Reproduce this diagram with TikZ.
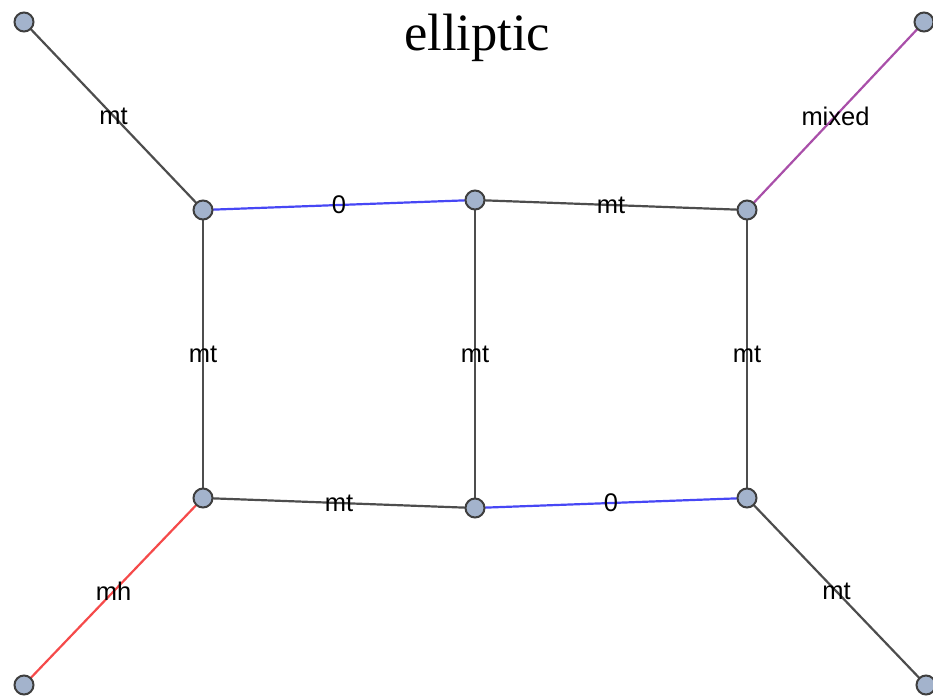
\documentclass[tikz,border=0pt]{standalone}
\usepackage{fontspec}
\setmainfont{Liberation Serif}
\newfontfamily\lblfont{Liberation Sans}
\definecolor{vfill}{HTML}{A3B3CC}
\definecolor{vdraw}{HTML}{3F3F3F}
\definecolor{egray}{HTML}{4D4D4D}
\definecolor{eblue}{HTML}{4747F5}
\definecolor{epurple}{HTML}{A94FA9}
\definecolor{ered}{HTML}{F54A4A}
\tikzset{
  vtx/.style={circle,fill=vfill,draw=vdraw,line width=2pt,minimum size=19pt,inner sep=0pt},
  edge/.style={line width=2.2pt},
  elbl/.style={font=\lblfont\fontsize{25.5}{28}\selectfont,text=black,inner sep=0pt,midway},
}
\begin{document}
\begin{tikzpicture}[x=1pt,y=-1pt]
\useasboundingbox (0,0) rectangle (933,700);
\node[font=\fontsize{52.5}{58}\selectfont] (title) at (477,38) {elliptic};
\coordinate (p1) at (24,22);
\coordinate (p2) at (924,22);
\coordinate (p3) at (24,685);
\coordinate (p4) at (926,685);
\coordinate (pa) at (203,210);
\coordinate (pb) at (475,200);
\coordinate (pc) at (747,210);
\coordinate (pd) at (203,498);
\coordinate (pe) at (475,508);
\coordinate (pf) at (747,498);
\draw[edge,egray] (p1) -- (pa) node[elbl] {mt};
\draw[edge,eblue] (pa) -- (pb) node[elbl] {0};
\draw[edge,egray] (pb) -- (pc) node[elbl] {mt};
\draw[edge,epurple] (pc) -- (p2) node[elbl] {mixed};
\draw[edge,egray] (pa) -- (pd) node[elbl] {mt};
\draw[edge,egray] (pb) -- (pe) node[elbl] {mt};
\draw[edge,egray] (pc) -- (pf) node[elbl] {mt};
\draw[edge,egray] (pd) -- (pe) node[elbl] {mt};
\draw[edge,eblue] (pe) -- (pf) node[elbl] {0};
\draw[edge,ered] (pd) -- (p3) node[elbl] {mh};
\draw[edge,egray] (pf) -- (p4) node[elbl] {mt};
\foreach \p in {p1,p2,p3,p4,pa,pb,pc,pd,pe,pf} {
  \node[vtx] (n\p) at (\p) {};
}
\end{tikzpicture}
\end{document}
